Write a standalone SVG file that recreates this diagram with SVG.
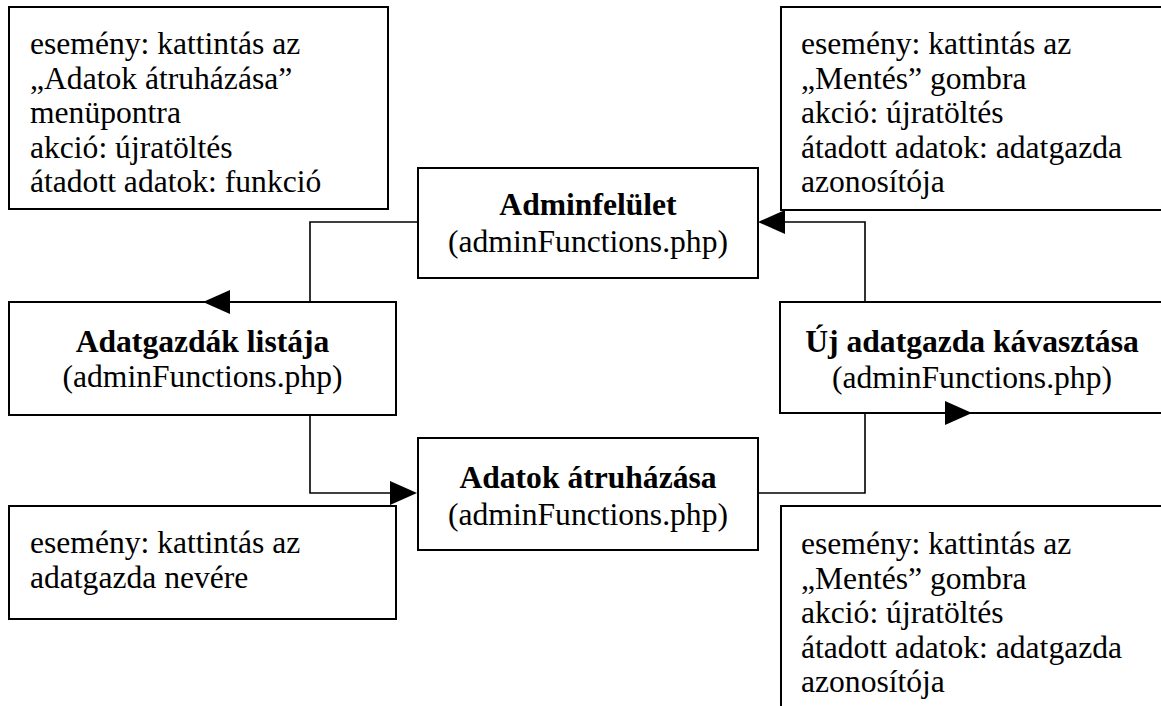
<svg xmlns="http://www.w3.org/2000/svg" width="1161" height="706" viewBox="0 0 1161 706">
<style>
.box{fill:#fff;stroke:#000;stroke-width:2}
text{font-family:'Liberation Serif','Times New Roman','DejaVu Serif',serif;font-size:31.6px;fill:#000}
.b{font-weight:bold}
.c{text-anchor:middle}
.ln{fill:none;stroke:#000;stroke-width:1.6}
.ah{fill:#000;stroke:none}
</style>
<rect width="1161" height="706" fill="#fff"/>
<g font-family="Liberation Serif, serif">
<g id="note-tl">
<rect class="box" x="9" y="7" width="379" height="202"/>
<text x="30" y="54">esemény: kattintás az</text>
<text x="30" y="88.5">„Adatok átruházása”</text>
<text x="30" y="123">menüpontra</text>
<text x="30" y="157.5">akció: újratöltés</text>
<text x="30" y="192">átadott adatok: funkció</text>
</g>
<g id="note-tr">
<rect class="box" x="781" y="7" width="400" height="203"/>
<text x="801" y="54">esemény: kattintás az</text>
<text x="801" y="88.5">„Mentés” gombra</text>
<text x="801" y="123">akció: újratöltés</text>
<text x="801" y="157.5">átadott adatok: adatgazda</text>
<text x="801" y="192">azonosítója</text>
</g>
<g id="node-admin">
<rect class="box" x="418" y="168" width="340" height="110"/>
<text class="b c" x="588" y="215">Adminfelület</text>
<text class="c" x="588" y="252">(adminFunctions.php)</text>
</g>
<g id="node-lista">
<rect class="box" x="9" y="302" width="387" height="113"/>
<text class="b c" x="202.5" y="352">Adatgazdák listája</text>
<text class="c" x="202.5" y="387">(adminFunctions.php)</text>
</g>
<g id="node-uj">
<rect class="box" x="780" y="302" width="400" height="111"/>
<text class="b c" x="972" y="352">Új adatgazda kávasztása</text>
<text class="c" x="972" y="388">(adminFunctions.php)</text>
</g>
<g id="node-atruhazas">
<rect class="box" x="418" y="438" width="340" height="112"/>
<text class="b c" x="588" y="488">Adatok átruházása</text>
<text class="c" x="588" y="525">(adminFunctions.php)</text>
</g>
<g id="note-bl">
<rect class="box" x="9" y="506" width="387" height="113"/>
<text x="30" y="553">esemény: kattintás az</text>
<text x="30" y="587.5">adatgazda nevére</text>
</g>
<g id="note-br">
<rect class="box" x="781" y="506" width="400" height="220"/>
<text x="801" y="554">esemény: kattintás az</text>
<text x="801" y="588.5">„Mentés” gombra</text>
<text x="801" y="623">akció: újratöltés</text>
<text x="801" y="657.5">átadott adatok: adatgazda</text>
<text x="801" y="692">azonosítója</text>
</g>
</g>
<g id="connectors">
<polyline class="ln" points="418,222 310,222 310,302 225,302"/>
<polygon class="ah" points="203,302 230,290 230,314"/>
<polyline class="ln" points="310,415 310,493 395,493"/>
<polygon class="ah" points="417,493 390,481 390,505"/>
<polyline class="ln" points="758,493 865,493 865,413 950,413"/>
<polygon class="ah" points="972,413 945,401 945,425"/>
<polyline class="ln" points="865,302 865,222 780,222"/>
<polygon class="ah" points="758,222 785,210 785,234"/>
</g>
</svg>
